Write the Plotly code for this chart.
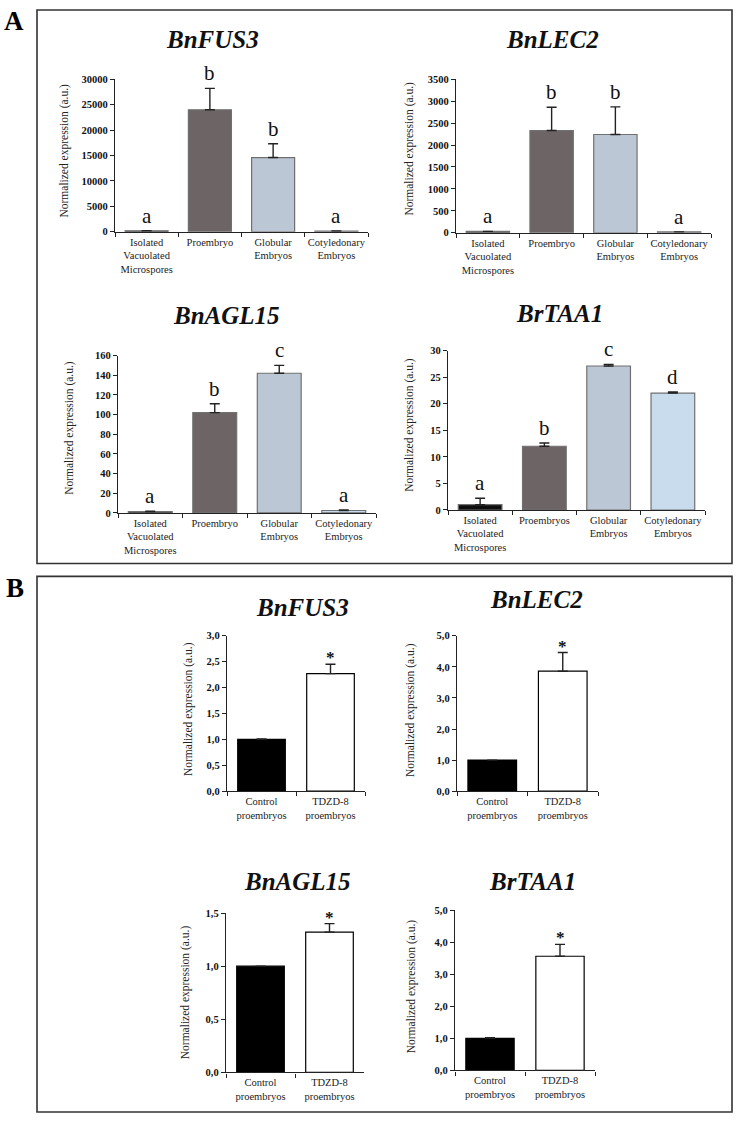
import plotly.graph_objects as go

W, H = 737, 1121

# ---------------- data ----------------
cats_A = ["Isolated Vacuolated Microspores", "Proembryo", "Globular Embryos", "Cotyledonary Embryos"]
cats_A_taa1 = ["Isolated Vacuolated Microspores", "Proembryos", "Globular Embryos", "Cotyledonary Embryos"]
ticktext_A = ["Isolated<br>Vacuolated<br>Microspores", "Proembryo", "Globular<br>Embryos", "Cotyledonary<br>Embryos"]
ticktext_A_taa1 = ["Isolated<br>Vacuolated<br>Microspores", "Proembryos", "Globular<br>Embryos", "Cotyledonary<br>Embryos"]

fus3_A = [200, 24000, 14600, 150]
fus3_A_err = [0, 4200, 2700, 0]
fus3_A_letters = ["a", "b", "b", "a"]

lec2_A = [30, 2330, 2240, 20]
lec2_A_err = [0, 530, 630, 0]
lec2_A_letters = ["a", "b", "b", "a"]

agl15_A = [1.5, 102, 142, 2.5]
agl15_A_err = [0.3, 9, 8, 0.5]
agl15_A_letters = ["a", "b", "c", "a"]

taa1_A = [1.0, 12.0, 27.1, 22.0]
taa1_A_err = [1.2, 0.6, 0.3, 0.2]
taa1_A_letters = ["a", "b", "c", "d"]

cats_B = ["Control proembryos", "TDZD-8 proembryos"]
ticktext_B = ["Control<br>proembryos", "TDZD-8<br>proembryos"]

fus3_B = [1.0, 2.27]
fus3_B_err = [0.01, 0.18]
lec2_B = [1.0, 3.86]
lec2_B_err = [0.0, 0.6]
agl15_B = [1.0, 1.32]
agl15_B_err = [0.0, 0.08]
taa1_B = [1.0, 3.56]
taa1_B_err = [0.02, 0.37]
marks_B = ["", "*"]

yt_fus3_A = [0, 5000, 10000, 15000, 20000, 25000, 30000]
yl_fus3_A = ["0", "5000", "10000", "15000", "20000", "25000", "30000"]
yt_lec2_A = [0, 500, 1000, 1500, 2000, 2500, 3000, 3500]
yl_lec2_A = ["0", "500", "1000", "1500", "2000", "2500", "3000", "3500"]
yt_agl15_A = [0, 20, 40, 60, 80, 100, 120, 140, 160]
yl_agl15_A = ["0", "20", "40", "60", "80", "100", "120", "140", "160"]
yt_taa1_A = [0, 5, 10, 15, 20, 25, 30]
yl_taa1_A = ["0", "5", "10", "15", "20", "25", "30"]
yt_fus3_B = [0, 0.5, 1.0, 1.5, 2.0, 2.5, 3.0]
yl_fus3_B = ["0,0", "0,5", "1,0", "1,5", "2,0", "2,5", "3,0"]
yt_5_B = [0, 1, 2, 3, 4, 5]
yl_5_B = ["0,0", "1,0", "2,0", "3,0", "4,0", "5,0"]
yt_agl15_B = [0, 0.5, 1.0, 1.5]
yl_agl15_B = ["0,0", "0,5", "1,0", "1,5"]

colors_A = ["#0e0e0e", "#6d6565", "#bcc7d6", "#c9dcee"]
colors_B = ["#000000", "#ffffff"]

SERIF = "Liberation Serif, Times New Roman, serif"

def fx(px):
    return px / W

def fy(py):
    return 1 - py / H

panels = [
    ("BnFUS3", cats_A, ticktext_A, fus3_A, fus3_A_err, fus3_A_letters, yt_fus3_A, yl_fus3_A, 30000,
     (115, 368), (75, 229), (212, 33), (65, 147), "A"),
    ("BnLEC2", cats_A, ticktext_A, lec2_A, lec2_A_err, lec2_A_letters, yt_lec2_A, yl_lec2_A, 3500,
     (456, 711), (75, 230), (552, 33), (410, 145), "A"),
    ("BnAGL15", cats_A, ticktext_A, agl15_A, agl15_A_err, agl15_A_letters, yt_agl15_A, yl_agl15_A, 160,
     (118, 376), (354, 513), (226, 312), (70, 427), "A"),
    ("BrTAA1", cats_A_taa1, ticktext_A_taa1, taa1_A, taa1_A_err, taa1_A_letters, yt_taa1_A, yl_taa1_A, 30,
     (448, 705), (349, 510), (559, 310), (410, 424), "A"),
    ("BnFUS3", cats_B, ticktext_B, fus3_B, fus3_B_err, marks_B, yt_fus3_B, yl_fus3_B, 3.0,
     (227, 365), (637, 794), (302, 606), (188, 711), "B"),
    ("BnLEC2", cats_B, ticktext_B, lec2_B, lec2_B_err, marks_B, yt_5_B, yl_5_B, 5.0,
     (457, 598), (637, 794), (536, 598), (410, 712), "B"),
    ("BnAGL15", cats_B, ticktext_B, agl15_B, agl15_B_err, marks_B, yt_agl15_B, yl_agl15_B, 1.5,
     (226, 364), (917, 1078), (297, 883), (185, 997), "B"),
    ("BrTAA1", cats_B, ticktext_B, taa1_B, taa1_B_err, marks_B, yt_5_B, yl_5_B, 5.0,
     (455, 595), (914, 1076), (532, 883), (411, 991), "B"),
]

fig = go.Figure()
layout = dict(
    width=W, height=H, autosize=False,
    margin=dict(l=0, r=0, t=0, b=0),
    paper_bgcolor="white", plot_bgcolor="rgba(0,0,0,0)",
    showlegend=False,
    font=dict(family=SERIF, color="#111"),
)
annotations = []
shapes = []

for i, (title, cats, ttext, vals, errs, labs, ytv, ytl, ymax, xd, yd, tpos, ypos, grp) in enumerate(panels):
    k = "" if i == 0 else str(i + 1)
    xa, ya = "x" + k, "y" + k
    if grp == "A":
        colors = colors_A
        lines = "#707070"
        bw = 0.68
    else:
        colors = colors_B
        lines = "#000000"
        bw = 0.69
    fig.add_trace(go.Bar(
        x=cats, y=vals, xaxis=xa, yaxis=ya, width=bw,
        marker=dict(color=colors, line=dict(color=lines, width=1.2)),
        error_y=dict(type="data", symmetric=False, array=errs, arrayminus=[0] * len(errs),
                     color="#222", thickness=1.4, width=5),
        hoverinfo="skip",
    ))
    layout["xaxis" + k] = dict(
        domain=[fx(xd[0]), fx(xd[1])], anchor=ya, type="category",
        categoryorder="array", categoryarray=cats,
        range=[-0.5, len(cats) - 0.5],
        tickvals=cats, ticktext=ttext, tickson="boundaries", tickangle=0,
        ticks="outside", ticklen=4, tickwidth=1.2, tickcolor="#222",
        showline=True, linecolor="#222", linewidth=1.4,
        showgrid=False, zeroline=False, fixedrange=True,
        tickfont=dict(family=SERIF, size=10.5, color="#222"),
    )
    layout["yaxis" + k] = dict(
        domain=[fy(yd[1]), fy(yd[0])], anchor=xa,
        range=[0, ymax], tickvals=ytv, ticktext=ytl,
        ticks="outside", ticklen=4, tickwidth=1.2, tickcolor="#222",
        showline=True, linecolor="#222", linewidth=1.4,
        showgrid=False, zeroline=False, fixedrange=True,
        tickfont=dict(family=SERIF, size=10.5, color="#111", weight="bold"),
    )
    annotations.append(dict(
        text=title, xref="paper", yref="paper", x=fx(tpos[0]), y=fy(tpos[1] + 2),
        xanchor="center", yanchor="middle", showarrow=False,
        font=dict(family=SERIF, size=25, color="#111", weight="bold", style="italic"),
    ))
    annotations.append(dict(
        text="Normalized expression (a.u.)", xref="paper", yref="paper",
        x=fx(ypos[0]), y=fy(ypos[1]), textangle=-90,
        xanchor="center", yanchor="middle", showarrow=False,
        font=dict(family=SERIF, size=11.5, color="#222"),
    ))
    for c, v, e, lab in zip(cats, vals, errs, labs):
        if not lab:
            continue
        if grp == "A":
            annotations.append(dict(
                text=lab, xref=xa, yref=ya, x=c, y=v + e, xanchor="center", yanchor="bottom",
                yshift=1, showarrow=False, font=dict(family=SERIF, size=21, color="#111"),
            ))
        else:
            annotations.append(dict(
                text=lab, xref=xa, yref=ya, x=c, y=v + e, xanchor="center", yanchor="bottom",
                yshift=-5, showarrow=False,
                font=dict(family=SERIF, size=17, color="#111", weight="bold"),
            ))

annotations.append(dict(text="A", xref="paper", yref="paper", x=fx(14), y=fy(16),
                        xanchor="center", yanchor="middle", showarrow=False,
                        font=dict(family=SERIF, size=27, color="#000", weight="bold")))
annotations.append(dict(text="B", xref="paper", yref="paper", x=fx(15), y=fy(589),
                        xanchor="center", yanchor="middle", showarrow=False,
                        font=dict(family=SERIF, size=27, color="#000", weight="bold")))

for (x0, y0, x1, y1) in [(37, 5, 732, 564), (37, 577, 732, 1118)]:
    shapes.append(dict(type="rect", xref="paper", yref="paper",
                       x0=fx(x0), x1=fx(x1), y0=fy(y1), y1=fy(y0),
                       line=dict(color="#333", width=1.6), fillcolor="rgba(0,0,0,0)"))

layout["annotations"] = annotations
layout["shapes"] = shapes
fig.update_layout(**layout)
fig.write_html("out.html", config={"displayModeBar": False},
               post_script="document.body.style.margin='0';document.body.style.overflow='hidden';")
